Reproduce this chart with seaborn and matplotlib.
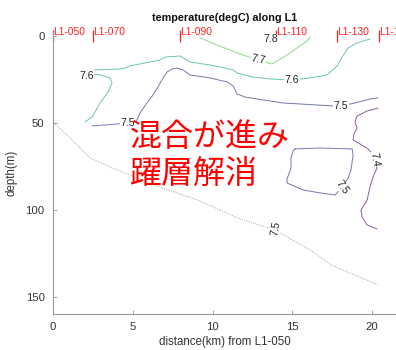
import matplotlib
matplotlib.use("Agg")
import matplotlib.pyplot as plt
import seaborn as sns
import pandas as pd

# --- stations along line L1 (distance in km from L1-050) ---
station_names = ["L1-050", "L1-070", "L1-090", "L1-110", "L1-130", "L1-150"]
station_km = [0.0, 2.5, 7.96, 13.98, 17.8, 20.44]

# --- temperature isolines (distance km, depth m) ---
t74_x = [20.38, 19.69, 19.06, 18.93, 19.06, 18.87, 18.81, 19.25, 19.75, 20.06, 20.13,
         20.31, 20.06, 19.87, 19.69, 19.31, 19.37, 19.69, 20.31]
t74_d = [41.4, 43.1, 46.0, 49.4, 52.9, 56.3, 59.8, 62.1, 64.9, 68.4, 71.3,
         75.9, 81.0, 86.8, 94.3, 100.0, 104.0, 108.6, 110.9]

t75a_x = [2.45, 4.01, 4.70, 5.27, 5.45, 5.89, 6.27, 6.58, 6.90, 7.15, 7.46, 7.77, 8.15,
          8.59, 9.84, 10.91, 11.29, 11.54, 12.04, 12.79, 14.42, 17.55, 18.06, 18.93,
          19.87, 20.38]
t75a_d = [51.7, 50.6, 50.0, 48.3, 44.3, 38.5, 33.9, 29.3, 24.1, 20.7, 19.0, 18.4, 19.5,
          22.4, 24.1, 26.4, 28.7, 33.3, 35.1, 36.2, 38.5, 40.2, 40.2, 38.5,
          36.2, 35.6]

t75b_x = [15.17, 16.74, 18.75, 18.81, 18.68, 18.50, 18.12, 17.68, 16.74, 15.67, 14.67,
          14.67, 14.92, 14.92, 15.05, 15.17]
t75b_d = [64.9, 64.4, 64.9, 68.4, 77.0, 81.6, 86.8, 91.4, 90.2, 88.5, 84.5,
          82.2, 75.9, 70.1, 66.1, 64.9]

t76_x = [2.01, 2.45, 2.95, 3.45, 3.70, 3.57, 2.95, 2.32, 2.60, 4.20, 4.51, 4.83, 6.71,
         7.02, 7.96, 8.59, 9.84, 10.47, 11.29, 11.54, 12.54, 13.60, 14.98, 16.11,
         17.18, 17.81, 18.12, 18.50, 19.06, 19.87]
t76_d = [49.4, 46.6, 38.5, 32.2, 27.0, 24.1, 22.4, 21.5, 19.5, 19.0, 18.4, 17.2, 13.8,
         12.1, 11.5, 14.9, 16.7, 17.8, 19.5, 21.3, 23.6, 24.7, 25.3, 24.1,
         22.4, 17.2, 12.1, 6.9, 4.0, 1.7]

t77_x = [9.22, 10.28, 11.72, 12.85, 13.73, 14.67, 15.49, 15.92, 16.11]
t77_d = [1.1, 5.2, 10.3, 13.8, 16.1, 10.9, 5.7, 2.9, 0.6]

t78_x = [13.80, 13.90]
t78_d = [0.0, 2.5]

# bottom 7.5 isoline (dotted)
bottom_x = [0.0, 1.07, 2.32, 4.01, 6.71, 9.22, 11.72, 13.92, 16.11, 17.55, 19.06, 20.38]
bottom_d = [49.4, 58.6, 70.1, 77.0, 86.8, 94.8, 105.2, 111.5, 123.0, 132.2, 137.9, 143.1]

# contour labels: (level, km, depth, rotation)
label_level = [7.4, 7.5, 7.5, 7.5, 7.5, 7.6, 7.6, 7.7, 7.8]
label_x = [20.15, 4.70, 18.06, 18.12, 13.95, 2.10, 14.98, 12.85, 13.67]
label_d = [71.0, 50.0, 40.2, 86.8, 110.5, 22.8, 25.3, 13.8, 1.7]
label_rot = [-80, 0, 0, -55, 80, 0, 0, -12, 0]

level_colors = {7.4: "#8c5aa6", 7.5: "#7379ae", 7.6: "#6cc4b4", 7.7: "#8ed68a", 7.8: "#e0dc3a"}

sns.set_style("ticks")
plt.rcParams["font.family"] = ["Liberation Sans", "DejaVu Sans"]

fig = plt.figure(figsize=(3.96, 3.5), dpi=100)
ax = fig.add_axes([0.1338, 0.1029, 0.8662, 0.8057])

isolines = [
    (7.4, t74_x, t74_d), (7.5, t75a_x, t75a_d), (7.5, t75b_x, t75b_d),
    (7.6, t76_x, t76_d), (7.7, t77_x, t77_d), (7.8, t78_x, t78_d),
]
for level, xs, ds in isolines:
    df = pd.DataFrame({"km": xs, "depth": ds})
    sns.lineplot(data=df, x="km", y="depth", sort=False, estimator=None, ax=ax,
                 color=level_colors[level], linewidth=0.7)

bottom_df = pd.DataFrame({"km": bottom_x, "depth": bottom_d})
sns.lineplot(data=bottom_df, x="km", y="depth", sort=False, estimator=None, ax=ax,
             color="#555555", linewidth=0.6, linestyle=(0, (0.6, 1.6)))

for lev, lx, ld, rot in zip(label_level, label_x, label_d, label_rot):
    ax.text(lx, ld, f"{lev:.1f}", fontsize=7.6, color="#222222", ha="center",
            va="center", rotation=rot, rotation_mode="anchor",
            bbox=dict(facecolor="white", edgecolor="none", pad=0.3))

# station markers along the top
for name, km in zip(station_names, station_km):
    ax.plot([km, km], [-3.4, 3.4], color="#ff2020", linewidth=0.9,
            clip_on=False, solid_capstyle="butt")
    ax.text(km + 0.03, -0.7, name, color="#ff2020", fontsize=7.4,
            ha="left", va="baseline", clip_on=False)

ax.text(4.8, 49.0, "混合が進み\n躍層解消", color="#ff0000", fontsize=23,
        family=["Noto Sans CJK JP", "DejaVu Sans"], ha="left", va="top",
        linespacing=1.18)

ax.set_xlim(0, 21.5)
ax.set_ylim(159.8, -2.3)
ax.set_xticks([0, 5, 10, 15, 20])
ax.set_yticks([0, 50, 100, 150])
ax.set_xlabel("distance(km) from L1-050", fontsize=8.3, color="#333333", labelpad=3)
ax.set_ylabel("depth(m)", fontsize=8.3, color="#333333", labelpad=6)
ax.tick_params(direction="in", length=3, width=0.6, colors="#999999",
               labelcolor="#333333", labelsize=8.2, pad=6)
for side in ("top", "right"):
    ax.spines[side].set_visible(False)
for side in ("left", "bottom"):
    ax.spines[side].set_color("#999999")
    ax.spines[side].set_linewidth(0.8)

fig.text(225 / 396, 1 - 18 / 350, "temperature(degC) along L1", fontsize=7.8,
         fontweight="bold", ha="center", va="center", color="#111111")

fig.savefig("out.png", dpi=100)
